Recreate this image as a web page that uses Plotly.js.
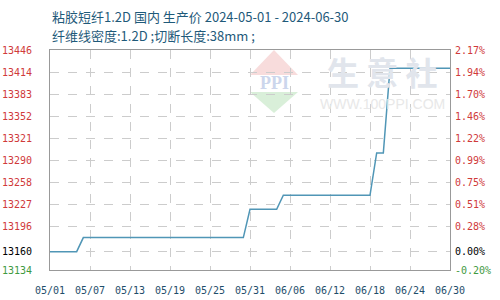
<!DOCTYPE html>
<html><head><meta charset="utf-8">
<script src="https://cdn.plot.ly/plotly-3.0.1.min.js"></script>
<style>html,body{margin:0;padding:0;background:#fff}#c{width:500px;height:300px}</style>
</head><body><div id="c"></div>
<script>
// ---- data ----
const dates = ['2024-05-01','2024-05-05','2024-05-06','2024-05-30','2024-05-31','2024-06-04','2024-06-05','2024-06-18','2024-06-19','2024-06-20','2024-06-21','2024-06-30'];
const prices = [13160,13160,13180,13180,13220,13220,13240,13240,13300,13300,13420,13420];
const basePrice = 13160;
const yTickVals = [13134,13160,13196,13227,13258,13290,13321,13352,13383,13414,13446];
const pctLabels = ['-0.20%','0.00%','0.28%','0.51%','0.75%','0.99%','1.22%','1.46%','1.70%','1.94%','2.17%'];
const xTickVals = ['2024-05-01','2024-05-07','2024-05-13','2024-05-19','2024-05-25','2024-05-31','2024-06-06','2024-06-12','2024-06-18','2024-06-24','2024-06-30'];
const xTickText = ['05/01','05/07','05/13','05/19','05/25','05/31','06/06','06/12','06/18','06/24','06/30'];
const title1 = '粘胶短纤1.2D 国内 生产价 2024-05-01 - 2024-06-30';
const title2 = '纤维线密度:1.2D ;切断长度:38mm ;';

const RED='#d03a3a', GREEN='#3f9a3f', BLACK='#000000';
const yMin=yTickVals[0], yMax=yTickVals[yTickVals.length-1];
const pct = v => (v/basePrice-1)*100;
const MONO='DejaVu Sans Mono';
const colourOf = i => i===0 ? GREEN : (i===1 ? BLACK : RED);
const wrap = (t,i) => i<2 ? `<span style="color:${colourOf(i)}">${t}</span>` : t;

const traces = [
  {x:dates, y:prices, type:'scatter', mode:'lines', line:{color:'#5096b6', width:1.5}, hoverinfo:'skip', showlegend:false},
  {x:dates, y:prices.map(pct), xaxis:'x2', yaxis:'y2', type:'scatter', mode:'lines', line:{color:'rgba(0,0,0,0)', width:1}, hoverinfo:'skip', showlegend:false}
];

const L=50,R=450,T=50,B=270;
const px = x => (x-L)/(R-L), py = y => (B-y)/(B-T);
const xRange = [xTickVals[0], xTickVals[xTickVals.length-1]];

const layout = {
  width:500, height:300,
  margin:{l:L, r:500-R, t:T, b:300-B},
  showlegend:false,
  paper_bgcolor:'#ffffff', plot_bgcolor:'rgba(0,0,0,0)',
  xaxis:{type:'date', domain:[0,1], anchor:'y', range:xRange, tickmode:'array', tickvals:xTickVals, ticktext:xTickText,
    tickfont:{family:MONO, size:10, color:'#1f4e6b'}, showgrid:true, gridcolor:'#cccccc', griddash:'dash', gridwidth:1,
    showline:true, linecolor:'#999999', linewidth:1, mirror:true, ticks:'', ticklabelstandoff:11, zeroline:false},
  yaxis:{domain:[0,1], anchor:'x', range:[yMin,yMax], tickmode:'array', tickvals:yTickVals, ticktext:yTickVals.map((v,i)=>wrap(String(v),i)),
    tickfont:{family:MONO, size:10, color:RED}, showgrid:true, gridcolor:'#cccccc', griddash:'dash', gridwidth:1,
    showline:true, linecolor:'#999999', linewidth:1, mirror:true, ticks:'', ticklabelstandoff:15, zeroline:false},
  xaxis2:{type:'date', domain:[0,1], anchor:'y2', range:xRange, visible:false, showgrid:false, zeroline:false},
  yaxis2:{domain:[0,1], anchor:'x2', side:'right', range:[pct(yMin),pct(yMax)], tickmode:'array',
    tickvals:yTickVals.map(pct), ticktext:pctLabels.map((t,i)=>wrap(t,i)),
    tickfont:{family:MONO, size:10, color:RED}, showgrid:false, zeroline:false, showline:false, ticks:'', ticklabelstandoff:4}
};

layout.annotations = [
  {text:title1, xref:'paper', yref:'paper', x:0, y:py(16), xanchor:'left', yanchor:'middle', showarrow:false,
   font:{family:'Noto Sans CJK SC', size:13, color:'#1f5a7a'}},
  {text:title2, xref:'paper', yref:'paper', x:0, y:py(36), xanchor:'left', yanchor:'middle', showarrow:false,
   font:{family:'Noto Sans CJK SC', size:13, color:'#1f5a7a'}},
  {text:'<b>生 意 社</b>', xref:'paper', yref:'paper', x:px(382), y:py(71), xanchor:'center', yanchor:'middle', showarrow:false,
   font:{family:'Noto Sans CJK SC', size:32, color:'#e1e5ec'}},
  {text:'WWW.100PPI.COM', xref:'paper', yref:'paper', x:px(382), y:py(104), xanchor:'center', yanchor:'middle', showarrow:false,
   font:{family:'Liberation Sans', size:14, color:'#e8e8e8'}},
  {text:'<b>PPI</b>', xref:'paper', yref:'paper', x:px(274), y:py(83), xanchor:'center', yanchor:'middle', showarrow:false,
   font:{family:'Liberation Serif', size:18, color:'#ccd6ec'}}
];
layout.shapes = [
  {type:'path', xref:'paper', yref:'paper', layer:'below', line:{width:0}, fillcolor:'#f8dcdc',
   path:`M ${px(250)} ${py(75)} L ${px(274)} ${py(50)} L ${px(298)} ${py(75)} Z`},
  {type:'path', xref:'paper', yref:'paper', layer:'below', line:{width:0}, fillcolor:'#d9efd9',
   path:`M ${px(250)} ${py(92)} L ${px(274)} ${py(113)} L ${px(298)} ${py(92)} Z`}
];
Plotly.newPlot('c', traces, layout, {staticPlot:true, displayModeBar:false});
</script></body></html>
